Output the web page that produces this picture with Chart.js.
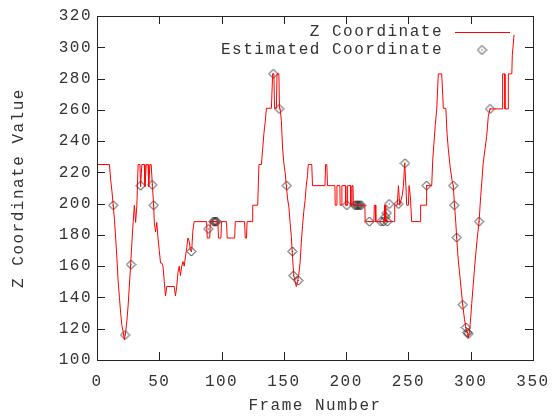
<!DOCTYPE html>
<html>
<head>
<meta charset="utf-8">
<script src="https://cdn.jsdelivr.net/npm/chart.js@4"></script>
<style>
  html, body { margin: 0; padding: 0; background: #fff; }
  #wrap { width: 556px; height: 419px; }
</style>
</head>
<body>
<div id="wrap"><canvas id="chart"></canvas></div>
<script>
// measured line (frame number, z value)
const lineFrames = [0,10,11,12,13,14,15,16,17,18,19,20,21,22,23,24,25,26,27,28,29,30,31,32,33,34.5,35,36,38,38.5,39.5,41,41.5,42.5,43.5,44.5,45.5,46,47,48,49,50,51,52,53,54,55,56,62,63,64,65,66,67,68,69,70,71,72,73,74,75,76,77,78,88,88.5,90.5,91,97,97.5,99.5,100,104,104.5,110.5,111,118.5,119,120,120.5,124.5,125,129,130,132,133,134,135,136,140,141,142,142.5,144,144.5,146,146.5,147,148,149,150,151,152,153,154,155,156,157,158,159,160,161,162,163,164,165,166,167,168,169,169.6,172.4,173,183,183.5,184.5,185,191,191.2,192.4,192.6,195,195.2,196.4,196.6,199.5,199.7,201,201.2,203.5,203.7,204.5,204.7,205.5,205.8,215,215.3,222.3,222.6,223.5,223.8,230.5,230.8,231.5,231.8,238.5,239,241,242,243,245,246,247,248,248.6,250,250.5,251.5,252.6,259.3,259.8,264.3,264.6,268.7,269.5,270.8,271.5,272.7,274,276.7,277.5,278,280,281,282,283.4,285,286,287,288,289,290,291.4,292.5,293.6,295,296.2,297.3,298,299,300,300.8,302,303,304.3,305.5,306.7,308,309,310,311.5,312.8,314.1,315.5,325.4,325.6,327.3,327.5,330,330.2,333,333.4,334.8];
const lineZ = [225,225,215,208,199,190,178,165,150,140,130,122,118,113,118,125,135,148,161,175,188,199,188,199,225,225,211,225,225,211,225,225,211,225,225,211,199,188,182,188,178,170,162,162,160,150,141,147,147,141,147,156,160,154,160,163,160,166,172,178,176,170,170,183,188.5,188.5,178,178,188.5,188.5,178,178,188.5,188.5,178,178,188.5,188.5,178,178,188.5,188.5,199,199,225,225,235,245,252,261,261,283,283,261,261,283,283,261,261,253,235,226,220,211.5,203,198,188,179,165,154,150,147,150,155,162,175,186,195,202,211.5,218,225,225,211.5,211.5,225,225,211.5,211.5,199,199,211.5,211.5,199,199,211.5,211.5,199,199,211.5,211.5,199,199,211.5,211.5,199,199,188.5,188.5,199,199,188.5,188.5,199,199,188.5,188.5,199,199,211.5,199,205,211.5,225.8,211,199,199,211.5,205,188.5,188.5,199,199,211.5,211.5,228,242,250,260,283,283,270,261,261,245,235,224,215,211.5,199,188,175,164,153,144,135,126,120,117,114,118,127,136,148,158,170,180,188.5,204.5,215,225.8,235,243,255.6,260.6,260.6,283,283,260.6,260.6,283,283,295,308];

// estimated points
const estFrames = [13,22.5,27.3,35,44.4,45.5,75.7,89.4,93.4,94.4,95.2,96,141.5,146.3,152.3,156.8,157.6,161.6,200.5,207,208,209,210,211,212,218.6,228,230,231.5,232.5,233,234.6,242,247.2,264.6,286,286.8,288.7,293.6,296.2,297.3,298,306.7,315.5];
const estZ = [199,116,161,211.5,212,199,169.4,183.8,188.5,188.5,188.5,188.5,283,260.6,211.5,169.4,154,150.8,199,199,199,199,199,199,199,188.5,188.5,188.5,191.5,194,188.5,199.8,199.8,225.8,211.5,211.5,199,178.3,135.3,120.8,117.6,116.7,188.5,260.6];

const xTicks = [0, 50, 100, 150, 200, 250, 300, 350];
const yTicks = [100, 120, 140, 160, 180, 200, 220, 240, 260, 280, 300, 320];

const FONT = { family: "'Liberation Mono', 'DejaVu Sans Mono', monospace", size: 16 };
const TEXT = '#333';
const RED = '#ff0000';

function diamond() {
  const c = document.createElement('canvas');
  c.width = 11; c.height = 11;
  const g = c.getContext('2d');
  g.strokeStyle = '#222';
  g.lineWidth = 1;
  g.beginPath();
  g.moveTo(5.5, 1); g.lineTo(10, 5.5); g.lineTo(5.5, 10); g.lineTo(1, 5.5);
  g.closePath();
  g.stroke();
  g.fillStyle = '#222';
  g.fillRect(5, 5, 1, 1);
  return c;
}
const marker = diamond();

// wide gnuplot-like letter spacing
const spacing = {
  id: 'spacing',
  beforeLayout(chart) { chart.ctx.letterSpacing = '1.5px'; },
  beforeDraw(chart) { chart.ctx.letterSpacing = '1.5px'; }
};

// border with inward ticks on all four sides
const frame = {
  id: 'frame',
  afterDatasetsDraw(chart) {
    const { ctx, chartArea: a, scales: { x, y } } = chart;
    const tl = 8;
    ctx.save();
    ctx.strokeStyle = '#222';
    ctx.lineWidth = 1;
    ctx.beginPath();
    xTicks.forEach(v => {
      const px = Math.round(x.getPixelForValue(v)) + 0.5;
      ctx.moveTo(px, a.bottom); ctx.lineTo(px, a.bottom - tl);
      ctx.moveTo(px, a.top); ctx.lineTo(px, a.top + tl);
    });
    yTicks.forEach(v => {
      const py = Math.round(y.getPixelForValue(v)) + 0.5;
      ctx.moveTo(a.left, py); ctx.lineTo(a.left + tl, py);
      ctx.moveTo(a.right, py); ctx.lineTo(a.right - tl, py);
    });
    ctx.stroke();
    ctx.strokeRect(Math.round(a.left) + 0.5, Math.round(a.top) + 0.5,
                   Math.round(a.right - a.left), Math.round(a.bottom - a.top));
    ctx.restore();
  }
};

// key in the top right corner, text right aligned, sample after it
const key = {
  id: 'key',
  afterDraw(chart) {
    const { ctx, chartArea: a } = chart;
    const textRight = a.right - 90;
    ctx.save();
    ctx.letterSpacing = '1.5px';
    ctx.font = `${FONT.size}px ${FONT.family}`;
    ctx.textAlign = 'right';
    ctx.textBaseline = 'middle';
    chart.data.datasets.forEach((ds, i) => {
      const yy = Math.round(a.top + 16 + i * 18);
      ctx.fillStyle = TEXT;
      ctx.fillText(ds.label, textRight, yy);
      if (i === 0) {
        ctx.strokeStyle = RED;
        ctx.lineWidth = 1;
        ctx.beginPath();
        ctx.moveTo(textRight + 12, yy + 0.5);
        ctx.lineTo(textRight + 67, yy + 0.5);
        ctx.stroke();
      } else {
        ctx.drawImage(marker, textRight + 39 - 5.5, yy - 5.5);
      }
    });
    ctx.restore();
  }
};

new Chart(document.getElementById('chart'), {
  type: 'scatter',
  data: {
    datasets: [{
      label: 'Z Coordinate',
      type: 'line',
      data: lineFrames.map((f, i) => ({ x: f, y: lineZ[i] })),
      borderColor: RED,
      borderWidth: 1,
      pointRadius: 0,
      tension: 0,
      fill: false
    }, {
      label: 'Estimated Coordinate',
      data: estFrames.map((f, i) => ({ x: f, y: estZ[i] })),
      pointStyle: marker,
      pointRadius: 5
    }]
  },
  options: {
    responsive: true,
    maintainAspectRatio: false,
    animation: false,
    layout: { padding: { left: 0, top: 16, right: 23, bottom: 0 } },
    plugins: { legend: { display: false }, tooltip: { enabled: false } },
    scales: {
      x: {
        type: 'linear', min: 0, max: 350,
        afterBuildTicks: s => { s.ticks = xTicks.map(v => ({ value: v })); },
        afterFit: s => { s.height = 59; s.paddingLeft = 0; s.paddingRight = 0; },
        grid: { display: false, drawTicks: false },
        border: { display: false },
        ticks: { padding: 12, color: TEXT, font: FONT, maxRotation: 0 },
        title: { display: true, text: 'Frame Number', color: TEXT, font: FONT, padding: { top: 0, bottom: 4 } }
      },
      y: {
        type: 'linear', min: 100, max: 320,
        afterBuildTicks: s => { s.ticks = yTicks.map(v => ({ value: v })); },
        afterFit: s => { s.width = 97; s.paddingTop = 0; s.paddingBottom = 0; },
        grid: { display: false, drawTicks: false },
        border: { display: false },
        ticks: { padding: 5, color: TEXT, font: FONT },
        title: { display: true, text: 'Z Coordinate Value', color: TEXT, font: FONT, padding: { top: 9, bottom: 0 } }
      }
    }
  },
  plugins: [spacing, frame, key]
});
</script>
</body>
</html>
